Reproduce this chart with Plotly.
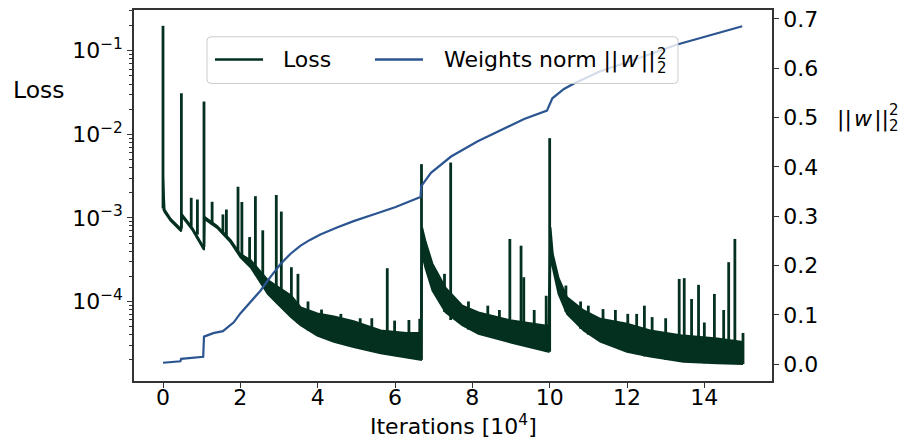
import plotly.graph_objects as go

# ---------------- data ----------------
# Loss noise band: iteration [1e4], lower and upper envelope of the loss
band_it = [0.00, 0.04, 0.20, 0.46, 0.47, 0.48, 0.75, 1.05, 1.06, 1.07, 1.40, 1.75, 2.00,
           2.27, 2.50, 2.71, 2.97, 3.31, 3.56, 3.99, 4.42, 4.93, 5.63, 6.30, 6.67,
           6.70, 6.79, 6.97, 7.31, 7.74, 8.16, 9.02, 9.97,
           10.02, 10.08, 10.23, 10.45, 10.88, 11.31, 12.00, 12.60, 13.46, 14.33, 15.00]
band_low = [1.30e-3, 1.18e-3, 9.2e-4, 7.0e-4, 6.9e-4, 1.06e-3, 7.3e-4, 4.2e-4, 4.2e-4, 9.7e-4,
            7.6e-4, 5.1e-4, 3.4e-4, 2.55e-4, 1.75e-4, 1.23e-4, 9.3e-5, 6.5e-5, 5.2e-5, 3.9e-5,
            3.3e-5, 2.85e-5, 2.4e-5, 2.15e-5, 2.0e-5,
            3.7e-4, 2.5e-4, 1.35e-4, 7.4e-5, 5.2e-5, 4.1e-5, 3.2e-5, 2.5e-5,
            3.4e-4, 2.6e-4, 1.23e-4, 7.1e-5, 4.5e-5, 3.3e-5, 2.5e-5, 2.2e-5, 1.9e-5, 1.82e-5, 1.78e-5]
band_high = [3.2e-3, 1.26e-3, 9.7e-4, 7.4e-4, 7.3e-4, 1.12e-3, 7.7e-4, 4.45e-4, 4.45e-4, 1.03e-3,
             8.0e-4, 5.4e-4, 3.7e-4, 3.1e-4, 2.3e-4, 1.8e-4, 1.5e-4, 1.18e-4, 8.5e-5, 7.2e-5,
             6.6e-5, 5.8e-5, 4.5e-5, 4.2e-5, 4.2e-5,
             7.7e-4, 5.2e-4, 2.8e-4, 1.45e-4, 8.9e-5, 7.4e-5, 5.9e-5, 5.1e-5,
             7.7e-4, 3.7e-4, 1.9e-4, 1.12e-4, 7.8e-5, 6.2e-5, 5.4e-5, 4.5e-5, 3.9e-5, 3.6e-5, 3.27e-5]

# Loss spikes: iteration, base level, peak level
spike_it = [0.00, 0.475, 0.73, 0.89, 1.06, 1.27, 1.55, 1.64, 1.94, 2.04, 2.24, 2.39, 2.58,
            2.93, 3.06, 3.32, 3.49, 3.75, 4.10, 4.60, 5.10, 5.40, 5.80, 5.99, 6.36, 6.64,
            6.685, 7.28, 7.44, 7.90, 8.40, 8.70, 8.97, 9.26, 9.33, 9.60, 9.91, 10.00, 10.42,
            10.80, 11.00, 11.38, 11.70, 12.02, 12.25, 12.45, 12.65, 13.00, 13.35, 13.48,
            13.67, 13.85, 14.00, 14.26, 14.50, 14.63, 14.79, 15.00]
spike_base = [1.3e-3, 7.5e-4, 8.0e-4, 6.3e-4, 4.5e-4, 8.3e-4, 6.6e-4, 6.0e-4, 3.8e-4, 3.4e-4,
              2.7e-4, 2.2e-4, 1.6e-4, 1.0e-4, 9.0e-5, 7.0e-5, 5.5e-5, 4.5e-5, 3.8e-5, 3.1e-5,
              2.7e-5, 2.5e-5, 2.4e-5, 2.3e-5, 2.1e-5, 2.0e-5, 2.0e-5, 7.5e-5, 6.0e-5, 4.6e-5,
              3.9e-5, 3.5e-5, 3.2e-5, 3.0e-5, 3.0e-5, 2.7e-5, 2.5e-5, 2.5e-5, 7.5e-5, 4.7e-5,
              4.0e-5, 3.3e-5, 2.9e-5, 2.5e-5, 2.4e-5, 2.2e-5, 2.2e-5, 2.0e-5, 1.9e-5, 1.9e-5,
              1.9e-5, 1.85e-5, 1.82e-5, 1.82e-5, 1.8e-5, 1.8e-5, 1.8e-5, 1.78e-5]
spike_peak = [0.199, 3.1e-2, 1.74e-3, 1.66e-3, 2.47e-2, 1.56e-3, 1.10e-3, 1.26e-3, 2.36e-3,
              1.55e-3, 5.9e-4, 1.82e-3, 7.1e-4, 1.88e-3, 1.19e-3, 2.57e-4, 2.14e-4, 1.0e-4,
              8.0e-5, 7.1e-5, 6.3e-5, 6.3e-5, 2.5e-4, 5.9e-5, 6.0e-5, 6.2e-5, 4.4e-3, 2.14e-4,
              4.6e-3, 1.0e-4, 8.9e-5, 7.9e-5, 5.6e-4, 4.65e-4, 1.95e-4, 7.9e-5, 1.17e-4, 9.0e-3,
              1.55e-4, 1.0e-4, 8.9e-5, 8.1e-5, 7.9e-5, 7.1e-5, 7.1e-5, 8.9e-5, 6.5e-5, 6.3e-5,
              1.86e-4, 1.9e-4, 1.07e-4, 1.58e-4, 5.6e-5, 1.23e-4, 7.9e-5, 2.95e-4, 5.6e-4, 4.2e-5]

# Weights norm ||w||_2^2
w_it = [0.00, 0.45, 0.47, 1.04, 1.06, 1.30, 1.55, 1.83, 2.00, 2.25, 2.52, 2.78, 3.04, 3.30,
        3.55, 3.80, 4.07, 4.50, 4.93, 5.50, 6.00, 6.66, 6.68, 6.93, 7.45, 8.14, 8.91, 9.34,
        9.93, 9.97, 10.07, 10.37, 10.63, 11.28, 12.00, 13.30, 14.00, 14.98]
w_val = [0.003, 0.006, 0.011, 0.015, 0.056, 0.063, 0.067, 0.085, 0.103, 0.125, 0.149, 0.177,
         0.203, 0.224, 0.240, 0.252, 0.263, 0.277, 0.290, 0.305, 0.318, 0.339, 0.361, 0.388,
         0.421, 0.452, 0.480, 0.497, 0.514, 0.522, 0.539, 0.558, 0.569, 0.593, 0.612, 0.648,
         0.664, 0.685]

x_ticks = [0, 2, 4, 6, 8, 10, 12, 14]
loss_ticks = [1e-4, 1e-3, 1e-2, 1e-1]
loss_ticktext = ["10<sup>−4</sup>", "10<sup>−3</sup>", "10<sup>−2</sup>", "10<sup>−1</sup>"]
loss_minor = [m * 10.0 ** e for e in (-5, -4, -3, -2, -1) for m in range(2, 10)]
w_ticks = [0.0, 0.1, 0.2, 0.3, 0.4, 0.5, 0.6, 0.7]

# ---------------- styling ----------------
LOSS_C = "#03301f"
W_C = "#2a5590"
FONT = "DejaVu Sans"
W_PX, H_PX = 903, 442
L, R, T, B = 134, 772, 7, 381
HAIR = "\u200a"
NORM = "||" + HAIR + "<i>w</i>" + HAIR + "||"


def px(x):
    return (x - L) / (R - L)


def py(y):
    return (B - y) / (B - T)


fig = go.Figure()

fig.add_trace(go.Scatter(x=band_it, y=band_low, mode="lines",
                         line=dict(color=LOSS_C, width=2), showlegend=False,
                         hoverinfo="skip"))
fig.add_trace(go.Scatter(x=band_it, y=band_high, mode="lines", fill="tonexty",
                         fillcolor=LOSS_C, line=dict(color=LOSS_C, width=2),
                         name="Loss", showlegend=False))

sx, sy = [], []
for xi, b, p in zip(spike_it, spike_base, spike_peak):
    sx += [xi, xi, None]
    sy += [b, p, None]
fig.add_trace(go.Scatter(x=sx, y=sy, mode="lines", line=dict(color=LOSS_C, width=2.8),
                         showlegend=False, hoverinfo="skip"))

fig.add_trace(go.Scatter(x=w_it, y=w_val, mode="lines", line=dict(color=W_C, width=2.2),
                         name="Weights norm", yaxis="y2", showlegend=False))

axis_common = dict(showline=True, linecolor="#333333", linewidth=1.5, ticks="outside",
                   ticklen=5, tickwidth=1.2, tickcolor="#333333", showgrid=False,
                   zeroline=False, tickfont=dict(family=FONT, size=22, color="black"))

fig.update_layout(
    width=W_PX, height=H_PX,
    margin=dict(l=L, r=W_PX - R, t=T, b=H_PX - B),
    paper_bgcolor="white", plot_bgcolor="white",
    font=dict(family=FONT, size=22, color="black"),
    showlegend=False,
    xaxis=dict(range=[-0.75, 15.75], tickvals=x_ticks, mirror=True,
               ticklabelstandoff=-9, **axis_common),
    yaxis=dict(type="log", range=[-4.952, -0.512], tickvals=loss_ticks,
               ticktext=loss_ticktext,
               minor=dict(tickmode="array", tickvals=loss_minor, ticks="outside",
                          ticklen=3, tickwidth=1, tickcolor="#333333", showgrid=False),
               **axis_common),
    yaxis2=dict(range=[-0.034, 0.718], tickvals=w_ticks, tickformat=".1f",
                overlaying="y", side="right", **axis_common),
)

ann = []
# axis titles
ann.append(dict(x=px(38.8), y=py(88), text="Loss", xanchor="center", yanchor="middle",
                font=dict(size=23.5)))
ann.append(dict(x=px(835), y=py(117), text=NORM, xanchor="left", yanchor="middle",
                font=dict(size=22)))
ann.append(dict(x=px(893.5), y=py(107.5), text="2", xanchor="center", yanchor="middle",
                font=dict(size=15)))
ann.append(dict(x=px(893.5), y=py(123.7), text="2", xanchor="center", yanchor="middle",
                font=dict(size=15)))
ann.append(dict(x=0.5, y=py(425), text="Iterations [10<sup>4</sup>]", xanchor="center",
                yanchor="middle", font=dict(size=22)))
# legend texts
ann.append(dict(x=px(281), y=py(57), text="Loss", xanchor="left", yanchor="middle",
                font=dict(size=22)))
ann.append(dict(x=px(441.7), y=py(57), text="Weights norm " + NORM,
                xanchor="left", yanchor="middle", font=dict(size=22)))
ann.append(dict(x=px(662), y=py(51.5), text="2", xanchor="center", yanchor="middle",
                font=dict(size=15)))
ann.append(dict(x=px(662), y=py(65.5), text="2", xanchor="center", yanchor="middle",
                font=dict(size=15)))
for a in ann:
    a.update(xref="paper", yref="paper", showarrow=False)
    a["font"].update(family=FONT, color="black")
fig.update_layout(annotations=ann)

# legend box (rounded) and sample lines
x0, x1, y0, y1 = px(207), px(678), py(81), py(34)
rx, ry = 4 / (R - L), 4 / (B - T)
path = (f"M {x0+rx},{y0} L {x1-rx},{y0} Q {x1},{y0} {x1},{y0+ry} "
        f"L {x1},{y1-ry} Q {x1},{y1} {x1-rx},{y1} L {x0+rx},{y1} "
        f"Q {x0},{y1} {x0},{y1-ry} L {x0},{y0+ry} Q {x0},{y0} {x0+rx},{y0} Z")
shapes = [
    dict(type="path", path=path, xref="paper", yref="paper",
         fillcolor="rgba(255,255,255,0.8)", line=dict(color="#cccccc", width=1),
         layer="above"),
    dict(type="line", x0=px(215), x1=px(263), y0=py(57), y1=py(57), xref="paper",
         yref="paper", line=dict(color=LOSS_C, width=2.5), layer="above"),
    dict(type="line", x0=px(375), x1=px(423), y0=py(57), y1=py(57), xref="paper",
         yref="paper", line=dict(color=W_C, width=2.5), layer="above"),
]
fig.update_layout(shapes=shapes)

fig.write_html("out.html")
